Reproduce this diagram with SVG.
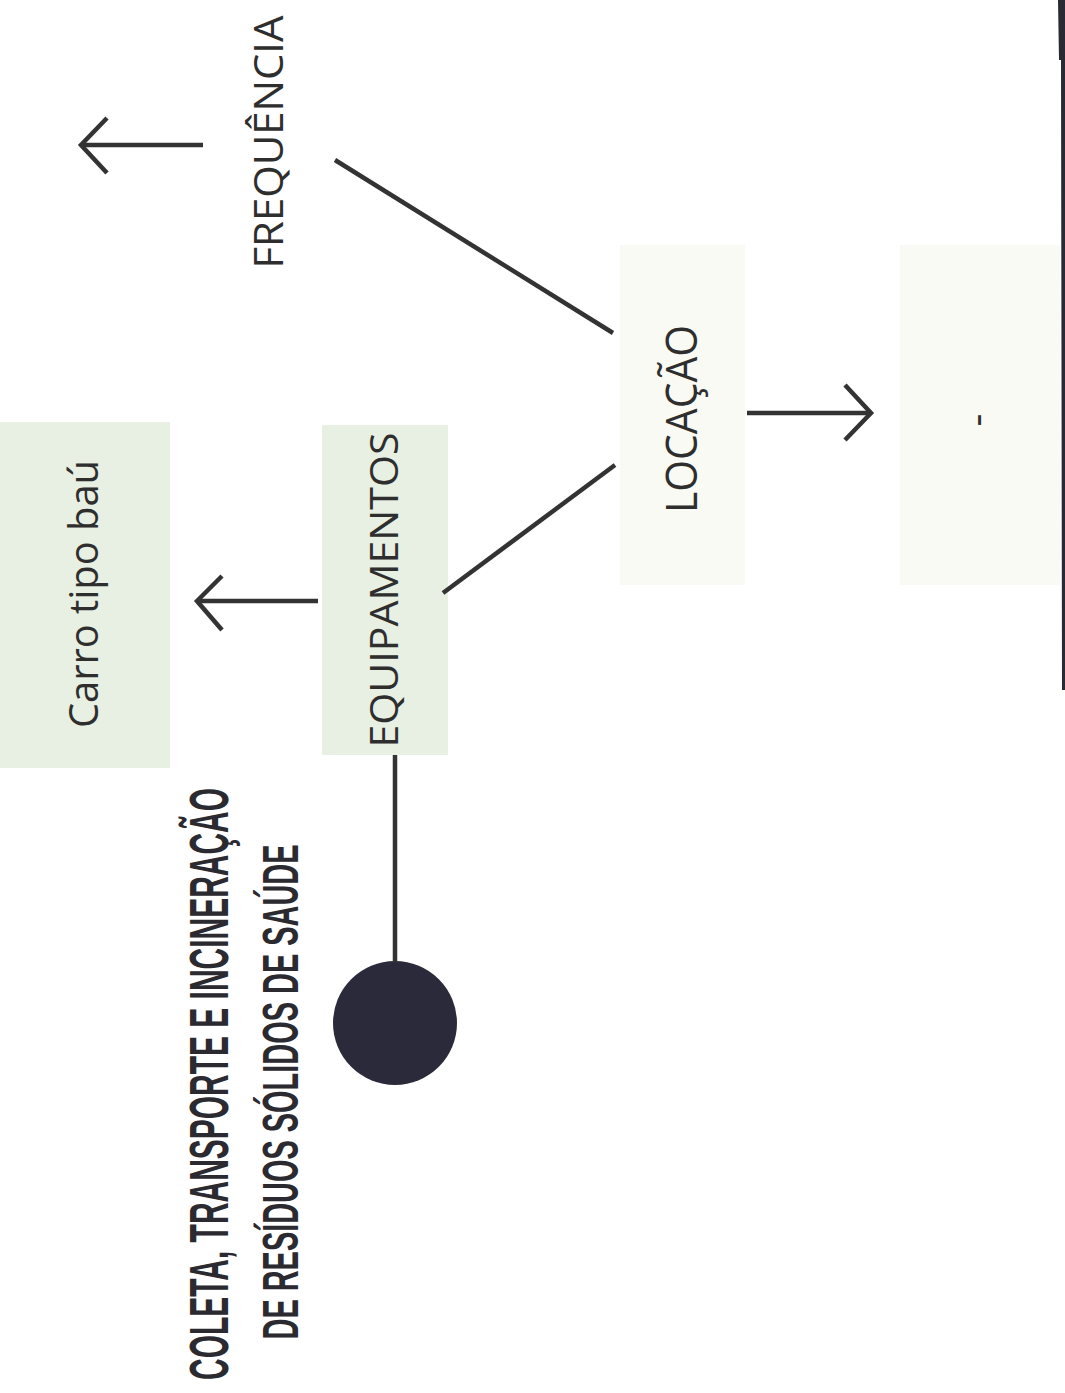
<svg xmlns="http://www.w3.org/2000/svg" width="1065" height="1393" viewBox="0 0 1065 1393">
  <style>
    .box-green { fill: #e8efe3; }
    .box-pale { fill: #fafaf4; }
    .lbl { font-family: "Open Sans", "Liberation Sans", sans-serif; font-weight: 400; fill: #2e2e2e; text-anchor: middle; }
    .title { font-family: "Liberation Sans Narrow", "Liberation Sans", sans-serif; font-weight: bold; fill: #2a2a30; text-anchor: middle; }
    .conn { stroke: #333; stroke-width: 4.5; fill: none; stroke-linecap: butt; stroke-linejoin: miter; }
  </style>
  <rect width="1065" height="1393" fill="#ffffff"/>

  <g id="node-carro">
    <rect class="box-green" x="0" y="422" width="170" height="346"/>
    <text class="lbl" transform="translate(98,594) rotate(-90)" font-size="40" textLength="268" lengthAdjust="spacingAndGlyphs">Carro tipo baú</text>
  </g>

  <g id="node-equipamentos">
    <rect class="box-green" x="322" y="425" width="126" height="330"/>
    <text class="lbl" transform="translate(398,590) rotate(-90)" font-size="39" textLength="315" lengthAdjust="spacingAndGlyphs">EQUIPAMENTOS</text>
  </g>

  <g id="node-frequencia">
    <text class="lbl" transform="translate(283,142) rotate(-90)" font-size="41" textLength="253" lengthAdjust="spacingAndGlyphs">FREQUÊNCIA</text>
  </g>

  <g id="node-locacao">
    <rect class="box-pale" x="620" y="245" width="125" height="340"/>
    <text class="lbl" transform="translate(697,419) rotate(-90)" font-size="43" textLength="188" lengthAdjust="spacingAndGlyphs">LOCAÇÃO</text>
  </g>

  <g id="node-empty">
    <rect class="box-pale" x="900" y="245" width="160" height="340"/>
    <text class="lbl" transform="translate(990,420) rotate(-90)" font-size="40">-</text>
  </g>

  <g id="node-title">
    <circle cx="395" cy="1023" r="62" fill="#2b2a3a"/>
    <text class="title" transform="translate(228,1084) rotate(-90)" font-size="56" textLength="592" lengthAdjust="spacingAndGlyphs">COLETA, TRANSPORTE E INCINERAÇÃO</text>
    <text class="title" transform="translate(298,1092) rotate(-90)" font-size="50" textLength="495" lengthAdjust="spacingAndGlyphs">DE RESÍDUOS SÓLIDOS DE SAÚDE</text>
  </g>

  <g id="connectors">
    <line class="conn" x1="395" y1="755" x2="395" y2="962"/>
    <line class="conn" x1="318" y1="601" x2="197" y2="601"/>
    <polyline class="conn" points="222,576 197,601 222,630"/>
    <line class="conn" x1="203" y1="145" x2="81" y2="145"/>
    <polyline class="conn" points="107,118 81,145 107,173"/>
    <line class="conn" x1="747" y1="413" x2="871" y2="413"/>
    <polyline class="conn" points="845,385 871,413 845,440"/>
    <line class="conn" x1="335" y1="160" x2="613" y2="333"/>
    <line class="conn" x1="443" y1="593" x2="615" y2="465"/>
  </g>

  <polygon points="1058,0 1065,0 1065,690 1062,690 1061,60 1059,60" fill="#2a2a35"/>
</svg>
